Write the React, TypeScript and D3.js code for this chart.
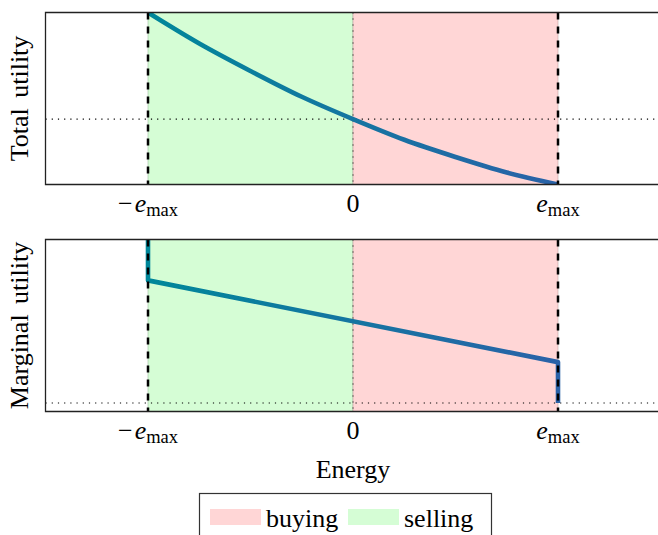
import React from 'react'
import * as d3 from 'd3'

// energy ticks (in units of e_max)
const energyTicks = [-1, 0, 1]
const tickNames = ['−', '', '']

// total utility curve
const totalE = [-1, -0.75, -0.5, -0.25, 0, 0.25, 0.5, 0.75, 1]
const totalU = [1, 0.82, 0.66, 0.51, 0.38, 0.26, 0.16, 0.07, 0]

// marginal utility (with the vertical jumps at the limits)
const marginalE = [-1, -1, 1, 1]
const marginalU = [1, 0.75, 0.25, 0]

const regions = [
  { name: 'selling', from: -1, to: 0, color: '#d5fdd5' },
  { name: 'buying', from: 0, to: 1, color: '#ffd6d6' }
]
const legendItems = ['buying', 'selling']
const legendColors: Record<string, string> = { buying: '#ffd6d6', selling: '#d5fdd5' }

const W = 658
const H = 535
const FS = 26
const serif = { fontFamily: "'Liberation Serif', 'Times New Roman', Times, serif" }

const x = d3.scaleLinear().domain([-1.5, 1.5]).range([45.5, 660.5])

const panels = [
  {
    label: 'Total utility',
    top: 12.5,
    bottom: 184.5,
    y: d3.scaleLinear().domain([0, 1]).range([184.5, 12.5]),
    dotted: 0.38,
    xs: totalE,
    ys: totalU,
    curve: d3.curveMonotoneX
  },
  {
    label: 'Marginal utility',
    top: 239.5,
    bottom: 411.5,
    y: d3.scaleLinear().domain([-0.052, 1]).range([411.5, 239.5]),
    dotted: 0,
    xs: marginalE,
    ys: marginalU,
    curve: d3.curveLinear
  }
]

const TickLabel = ({ v, name, yPos }: { v: number; name: string; yPos: number }) => {
  if (v === 0) {
    return (
      <text x={x(v)} y={yPos} textAnchor="middle" fontSize={FS} style={serif}>
        0
      </text>
    )
  }
  return (
    <text x={x(v)} y={yPos} textAnchor="middle" fontSize={FS} style={serif}>
      {name}
      <tspan fontStyle="italic" dx={name ? 2 : 0}>e</tspan>
      <tspan fontSize={18.5} dy={4}>max</tspan>
    </text>
  )
}

export default function App() {
  return (
    <svg width={W} height={H} style={{ position: 'absolute', left: 0, top: 0 }}>
      <defs>
        <linearGradient id="lineGrad" gradientUnits="userSpaceOnUse" x1={x(-1)} x2={x(1)} y1={0} y2={0}>
          <stop offset="0%" stopColor="#00879a" />
          <stop offset="100%" stopColor="#2a62a8" />
        </linearGradient>
        {panels.map((p, i) => (
          <clipPath id={`clip${i}`} key={i}>
            <rect x={45.5} y={p.top} width={W} height={p.bottom - p.top} />
          </clipPath>
        ))}
      </defs>
      {panels.map((p, i) => {
        const pts = p.xs.map((e, j) => [x(e), p.y(p.ys[j])] as [number, number])
        const line = d3.line().curve(p.curve)
        return (
          <g key={i}>
            {regions.map(r => (
              <rect
                key={r.name}
                x={x(r.from)}
                y={p.top}
                width={x(r.to) - x(r.from)}
                height={p.bottom - p.top}
                fill={r.color}
                stroke={d3.color(r.color)!.darker(0.8).toString()}
                strokeWidth={0.6}
              />
            ))}
            <line
              x1={45.5}
              x2={W}
              y1={p.y(p.dotted)}
              y2={p.y(p.dotted)}
              stroke="#000"
              strokeWidth={1.2}
              strokeDasharray="1.2,5"
            />
            <line
              x1={x(0)}
              x2={x(0)}
              y1={p.top}
              y2={p.bottom}
              stroke="#000"
              strokeWidth={1}
              strokeDasharray="1,5"
            />
            <path
              d={line(pts) || ''}
              fill="none"
              stroke="url(#lineGrad)"
              strokeWidth={4.6}
              strokeLinejoin="round"
              clipPath={`url(#clip${i})`}
            />
            {[-1, 1].map(v => (
              <line
                key={v}
                x1={x(v)}
                x2={x(v)}
                y1={p.top}
                y2={p.bottom}
                stroke="#000"
                strokeWidth={2.5}
                strokeDasharray="7,7"
              />
            ))}
            <path
              d={`M${W + 4},${p.top}H45.5V${p.bottom}H${W + 4}`}
              fill="none"
              stroke="#222"
              strokeWidth={1.3}
            />
            {energyTicks.map((v, j) => (
              <TickLabel key={v} v={v} name={tickNames[j]} yPos={p.bottom + 27} />
            ))}
            <text
              transform={`translate(28,${(p.top + p.bottom) / 2}) rotate(-90)`}
              textAnchor="middle"
              fontSize={FS}
              style={serif}
              wordSpacing={4}
            >
              {p.label}
            </text>
          </g>
        )
      })}
      <text x={x(0)} y={478} textAnchor="middle" fontSize={FS} style={serif}>
        Energy
      </text>
      <g>
        <rect x={199.5} y={493.5} width={292} height={60} fill="#fff" stroke="#333" strokeWidth={1.2} />
        {legendItems.map((name, i) => {
          const x0 = 210 + i * 138
          return (
            <g key={name}>
              <rect x={x0} y={509} width={51} height={16} fill={legendColors[name]} />
              <text x={x0 + 56} y={527} fontSize={FS} style={serif}>
                {name}
              </text>
            </g>
          )
        })}
      </g>
    </svg>
  )
}
